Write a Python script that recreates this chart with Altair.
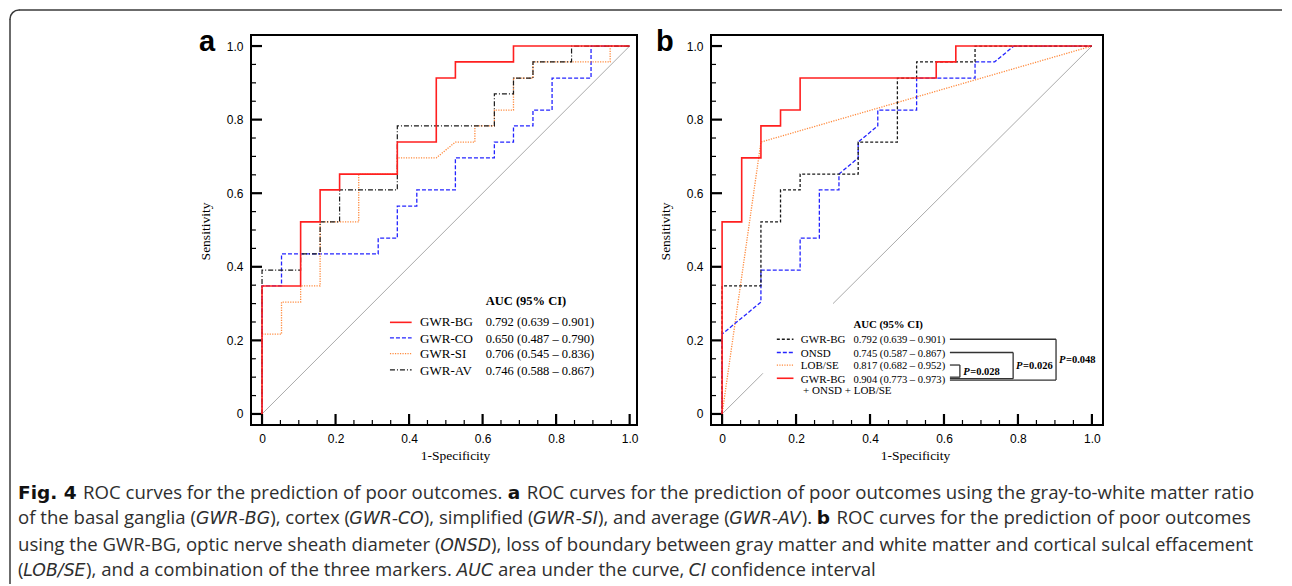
import altair as alt
import pandas as pd

# ---------------- data ----------------
# Panel a: ROC curves (1-specificity, sensitivity)
A_BG_FPR = [0, 0, 0.105, 0.105, 0.158, 0.158, 0.211, 0.211, 0.368, 0.368, 0.474, 0.474, 0.526, 0.526, 0.684, 0.684, 1.0]
A_BG_TPR = [0, 0.348, 0.348, 0.522, 0.522, 0.609, 0.609, 0.652, 0.652, 0.739, 0.739, 0.913, 0.913, 0.957, 0.957, 1.0, 1.0]
A_CO_FPR = [0, 0, 0.053, 0.053, 0.316, 0.316, 0.368, 0.368, 0.421, 0.421, 0.526, 0.526, 0.632, 0.632, 0.684, 0.684, 0.737, 0.737, 0.789, 0.789, 0.895, 0.895, 1.0]
A_CO_TPR = [0, 0.348, 0.348, 0.435, 0.435, 0.478, 0.478, 0.565, 0.565, 0.609, 0.609, 0.696, 0.696, 0.739, 0.739, 0.783, 0.783, 0.826, 0.826, 0.913, 0.913, 1.0, 1.0]
A_SI_FPR = [0, 0, 0.053, 0.053, 0.105, 0.105, 0.158, 0.158, 0.263, 0.263, 0.368, 0.368, 0.474, 0.526, 0.579, 0.579, 0.632, 0.632, 0.684, 0.684, 0.737, 0.737, 0.947, 0.947, 1.0]
A_SI_TPR = [0, 0.217, 0.217, 0.304, 0.304, 0.348, 0.348, 0.522, 0.522, 0.652, 0.652, 0.696, 0.696, 0.739, 0.739, 0.783, 0.783, 0.826, 0.826, 0.913, 0.913, 0.957, 0.957, 1.0, 1.0]
A_AV_FPR = [0, 0, 0.105, 0.105, 0.158, 0.158, 0.211, 0.211, 0.368, 0.368, 0.632, 0.632, 0.684, 0.684, 0.737, 0.737, 0.842, 0.842, 1.0]
A_AV_TPR = [0, 0.391, 0.391, 0.435, 0.435, 0.522, 0.522, 0.609, 0.609, 0.783, 0.783, 0.870, 0.870, 0.913, 0.913, 0.957, 0.957, 1.0, 1.0]

# Panel b
B_BG_FPR = A_BG_FPR
B_BG_TPR = A_BG_TPR
B_ONSD_FPR = [0, 0, 0.105, 0.105, 0.211, 0.211, 0.263, 0.263, 0.316, 0.316, 0.368, 0.368, 0.421, 0.421, 0.526, 0.526, 0.684, 0.684, 0.737, 0.789, 1.0]
B_ONSD_TPR = [0, 0.217, 0.304, 0.391, 0.391, 0.478, 0.478, 0.609, 0.609, 0.652, 0.696, 0.739, 0.783, 0.826, 0.826, 0.913, 0.913, 0.957, 0.957, 1.0, 1.0]
B_LOB_FPR = [0, 0.105, 1.0]
B_LOB_TPR = [0, 0.739, 1.0]
B_COMB_FPR = [0, 0, 0.053, 0.053, 0.105, 0.105, 0.158, 0.158, 0.211, 0.211, 0.579, 0.579, 0.632, 0.632, 1.0]
B_COMB_TPR = [0, 0.522, 0.522, 0.696, 0.696, 0.783, 0.783, 0.826, 0.826, 0.913, 0.913, 0.957, 0.957, 1.0, 1.0]

# chance diagonal (panel b's is interrupted behind the legend)
DIAG_A_X = [0, 1.0]
DIAG_A_Y = [0, 1.0]
DIAG_B_X = [0, 0.11, 0.30, 1.0]
DIAG_B_Y = [0, 0.11, 0.30, 1.0]
DIAG_B_SEG = [0, 0, 1, 1]

TICK_LABELS = [0, 0.2, 0.4, 0.6, 0.8, 1.0]
MINOR_TICKS = [0.05, 0.1, 0.15, 0.25, 0.3, 0.35, 0.45, 0.5, 0.55, 0.65, 0.7, 0.75, 0.85, 0.9, 0.95]

A_NAMES = ["GWR-BG", "GWR-CO", "GWR-SI", "GWR-AV"]
A_AUC = ["0.792 (0.639 – 0.901)", "0.650 (0.487 – 0.790)", "0.706 (0.545 – 0.836)", "0.746 (0.588 – 0.867)"]
B_NAMES = ["GWR-BG", "ONSD", "LOB/SE", "GWR-BG"]
B_AUC = ["0.792 (0.639 – 0.901)", "0.745 (0.587 – 0.867)", "0.817 (0.682 – 0.952)", "0.904 (0.773 – 0.973)"]
B_NAME_EXTRA = "+ ONSD + LOB/SE"
LEGEND_TITLE = "AUC (95% CI)"
P_TEXT = ["=0.028", "=0.026", "=0.048"]

CAPTION_TEXT = [
    [("Fig. 4 ", "b"), ("ROC curves for the prediction of poor outcomes. ", "r"), ("a ", "b"),
     ("ROC curves for the prediction of poor outcomes using the gray-to-white matter ratio", "r")],
    [("of the basal ganglia (", "r"), ("GWR-BG", "i"), ("), cortex (", "r"), ("GWR-CO", "i"),
     ("), simplified (", "r"), ("GWR-SI", "i"), ("), and average (", "r"), ("GWR-AV", "i"),
     ("). ", "r"), ("b ", "b"), ("ROC curves for the prediction of poor outcomes", "r")],
    [("using the GWR-BG, optic nerve sheath diameter (", "r"), ("ONSD", "i"),
     ("), loss of boundary between gray matter and white matter and cortical sulcal effacement", "r")],
    [("(", "r"), ("LOB/SE", "i"), ("), and a combination of the three markers. ", "r"), ("AUC", "i"),
     (" area under the curve, ", "r"), ("CI", "i"), (" confidence interval", "r")],
]

# ---------------- layout / style ----------------
# approximate glyph advance widths, used only to chain the mixed-style caption pieces
OPEN_SANS_W = {" ": 532, ",": 502, ".": 545, "(": 578, ")": 578, "-": 659, "/": 752,
               "a": 1139, "b": 1255, "c": 975, "d": 1255, "e": 1149, "f": 694, "g": 1122, "h": 1257,
               "i": 518, "k": 1075, "l": 518, "m": 1905, "n": 1257, "o": 1237, "p": 1255, "r": 836,
               "s": 977, "t": 723, "u": 1257, "v": 1026, "w": 1593, "x": 1073, "y": 1028,
               "B": 1327, "C": 1292, "G": 1483, "O": 1599, "R": 1278, "S": 1104, "W": 1886}
DEJAVU_W = {" ": 318, "-": 361, "/": 337, "A": 684, "B": 686, "C": 698, "D": 770, "E": 632, "G": 775,
            "I": 295, "L": 557, "N": 748, "O": 787, "R": 695, "S": 635, "U": 732, "V": 684, "W": 989}
DEJAVU_BOLD_W = {" ": 348, ".": 380, "4": 696, "F": 683, "a": 675, "b": 716, "g": 716, "i": 343}
CAP_STYLE = {
    "r": dict(font="Open Sans", size=18.6, widths=OPEN_SANS_W, units=2048, extra={}, color="#2e2e2e"),
    "i": dict(font="DejaVu Sans", size=17.3, widths=DEJAVU_W, units=1000, extra={"fontStyle": "italic"},
              color="#2e2e2e"),
    "b": dict(font="DejaVu Sans", size=18.5, widths=DEJAVU_BOLD_W, units=1000, extra={"fontWeight": "bold"},
              color="#111111"),
}
CAPTION_X0 = 18
CAPTION_BASE = [497.7, 523.3, 549.5, 575]

OX, OY = 251, 34          # page position of panel a's frame
W_A, W_B, H = 386, 392, 390
XDOM_A = [-0.03, 1.02]
XDOM_B = [-0.03, 1.03]
YDOM = [-0.03, 1.03]
SERIF, SANS = "Liberation Serif", "Liberation Sans"
RED, BLUE, ORANGE, BLACK, GRAY = "#ff1f1f", "#2424ff", "#ff8a3d", "#1a1a1a", "#aaaaaa"
DUMMY = pd.DataFrame({"k": [0]})
LABEL_EXPR = "datum.value == 0 ? '0' : format(datum.value, '.1f')"


def text_width(s, style):
    st = CAP_STYLE[style]
    return sum(st["widths"].get(c, 0.55 * st["units"]) for c in s) / st["units"] * st["size"]


class Panel:
    def __init__(self, xdom):
        self.sx = alt.Scale(domain=xdom, nice=False, zero=False)
        self.sy = alt.Scale(domain=YDOM, nice=False, zero=False)
        common = dict(values=TICK_LABELS, labelExpr=LABEL_EXPR, ticks=False, tickSize=0, domain=False,
                      grid=False, labelPadding=8, labelFont=SANS, labelFontSize=12, labelColor="black",
                      labelFlush=False, labelOverlap=False, titleFont=SERIF, titleFontSize=13.5,
                      titleFontWeight="normal", titleColor="black", titleAlign="center")
        self.ax = alt.Axis(title="1-Specificity", titleX=204, titleY=34, titleBaseline="alphabetic", **common)
        self.ay = alt.Axis(title="Sensitivity", titleAngle=270, titleX=-46, titleY=196,
                           titleBaseline="middle", **common)

    def X(self, f):
        return alt.X(f, type="quantitative", scale=self.sx, axis=self.ax)

    def Y(self, f):
        return alt.Y(f, type="quantitative", scale=self.sy, axis=self.ay)

    def curve(self, xs, ys, color, width, dash=None):
        df = pd.DataFrame({"x": xs, "y": ys, "i": list(range(len(xs)))})
        kw = dict(color=color, strokeWidth=width)
        if dash:
            kw["strokeDash"] = dash
        return alt.Chart(df).mark_line(**kw).encode(x=self.X("x"), y=self.Y("y"), order="i:Q")

    def ticks(self):
        out = []
        for vals, ln, sw in ((TICK_LABELS, 11, 2.2), (MINOR_TICKS, 5, 1.2)):
            df = pd.DataFrame({"v": vals})
            out.append(alt.Chart(df).mark_rule(color="black", strokeWidth=sw).encode(
                x=self.X("v"), y=alt.value(H), y2=alt.value(H - ln)))
            out.append(alt.Chart(df).mark_rule(color="black", strokeWidth=sw).encode(
                y=self.Y("v"), x=alt.value(0), x2=alt.value(ln)))
        return out

    def text(self, xs, ys, texts, **kw):
        df = pd.DataFrame({"x": xs, "y": ys, "t": texts})
        base = dict(align="left", baseline="alphabetic", color="black")
        base.update(kw)
        return alt.Chart(df).mark_text(**base).encode(x=self.X("x"), y=self.Y("y"), text="t:N")

    def sample(self, x1, x2, y, color, width, dash=None):
        df = pd.DataFrame({"x": [x1], "x2": [x2], "y": [y]})
        kw = dict(color=color, strokeWidth=width)
        if dash:
            kw["strokeDash"] = dash
        return alt.Chart(df).mark_rule(**kw).encode(x=self.X("x"), x2="x2:Q", y=self.Y("y"))


def letter_layer(letter, rel_x):
    return alt.Chart(DUMMY).mark_text(text=letter, font=SANS, fontSize=29, fontWeight="bold", align="left",
                                      baseline="alphabetic", color="black").encode(
        x=alt.value(rel_x), y=alt.value(16))


# ---------------- panel a ----------------
pa = Panel(XDOM_A)
diag_a = alt.Chart(pd.DataFrame({"x": DIAG_A_X, "y": DIAG_A_Y})).mark_line(color=GRAY, strokeWidth=1).encode(
    x=pa.X("x"), y=pa.Y("y"))

A_STYLES = [(RED, 1.6, None), (BLUE, 1.3, [4, 2]), (ORANGE, 1.3, [1.2, 1.3]), (BLACK, 1.2, [5, 2, 1, 2])]
a_curves = [
    pa.curve(A_CO_FPR, A_CO_TPR, *A_STYLES[1]),
    pa.curve(A_SI_FPR, A_SI_TPR, *A_STYLES[2]),
    pa.curve(A_AV_FPR, A_AV_TPR, *A_STYLES[3]),
    pa.curve(A_BG_FPR, A_BG_TPR, *A_STYLES[0]),
]

LA_X_SAMPLE = (0.348, 0.407)
LA_X_NAME, LA_X_VAL = 0.430, 0.6085
LA_Y_TITLE = 0.295
LA_Y_ROWS = [0.238, 0.194, 0.151, 0.107]
LA_Y_LINES = [0.249, 0.207, 0.164, 0.120]
a_legend = [pa.text([LA_X_VAL], [LA_Y_TITLE], [LEGEND_TITLE], font=SERIF, fontSize=12.5, fontWeight="bold"),
            pa.text([LA_X_NAME] * 4, LA_Y_ROWS, A_NAMES, font=SERIF, fontSize=13),
            pa.text([LA_X_VAL] * 4, LA_Y_ROWS, A_AUC, font=SERIF, fontSize=12.5)]
for k, st in enumerate(A_STYLES):
    a_legend.append(pa.sample(LA_X_SAMPLE[0], LA_X_SAMPLE[1], LA_Y_LINES[k], *st))

# caption (pieces of each line chained one after another) + outer frame, placed relative to panel a
cap_layers = []
for segs, base in zip(CAPTION_TEXT, CAPTION_BASE):
    cur = CAPTION_X0
    for txt, style in segs:
        st = CAP_STYLE[style]
        lead = txt[:len(txt) - len(txt.lstrip())]
        px = cur + text_width(lead, style)
        cur += text_width(txt, style)
        kw = dict(align="left", baseline="alphabetic", font=st["font"], fontSize=st["size"], color=st["color"])
        kw.update(st["extra"])
        cap_layers.append(alt.Chart(DUMMY).mark_text(**kw).encode(
            x=alt.value(round(px - OX, 2)), y=alt.value(base - OY), text=alt.value(txt.strip())))

BORDER = "#3a3a3a"
border = [
    alt.Chart(DUMMY).mark_rule(color=BORDER, strokeWidth=1.5).encode(
        x=alt.value(10 - OX), y=alt.value(18 - OY), y2=alt.value(583 - OY)),
    alt.Chart(DUMMY).mark_rule(color=BORDER, strokeWidth=1.5).encode(
        x=alt.value(19 - OX), x2=alt.value(1282 - OX), y=alt.value(9 - OY)),
    alt.Chart(DUMMY).mark_arc(radius=9, radius2=9, theta=4.712, theta2=6.283, filled=False,
                              color=BORDER, strokeWidth=1.5, strokeJoin="round").encode(
        x=alt.value(19 - OX), y=alt.value(18 - OY)),
]

panel_a = alt.layer(diag_a, *pa.ticks(), *a_curves, *a_legend, letter_layer("a", -52),
                    *cap_layers, *border).properties(width=W_A, height=H)

# ---------------- panel b ----------------
pb = Panel(XDOM_B)
diag_b = alt.Chart(pd.DataFrame({"x": DIAG_B_X, "y": DIAG_B_Y, "s": DIAG_B_SEG})).mark_line(
    color=GRAY, strokeWidth=1).encode(x=pb.X("x"), y=pb.Y("y"), detail="s:N")

B_STYLES = [(BLACK, 1.3, [3, 2]), (BLUE, 1.3, [4, 2]), (ORANGE, 1.3, [1.2, 1.3]), (RED, 1.6, None)]
b_curves = [
    pb.curve(B_LOB_FPR, B_LOB_TPR, *B_STYLES[2]),
    pb.curve(B_ONSD_FPR, B_ONSD_TPR, *B_STYLES[1]),
    pb.curve(B_BG_FPR, B_BG_TPR, *B_STYLES[0]),
    pb.curve(B_COMB_FPR, B_COMB_TPR, *B_STYLES[3]),
]

LB_X_SAMPLE = (0.148, 0.193)
LB_X_NAME, LB_X_VAL, LB_X_EXTRA = 0.213, 0.355, 0.219
LB_Y_TITLE = 0.233
LB_Y_ROWS = [0.192, 0.156, 0.122, 0.085]
LB_Y_LINES = [0.203, 0.167, 0.133, 0.097]
LB_Y_EXTRA = 0.055
b_legend = [pb.text([LB_X_VAL], [LB_Y_TITLE], [LEGEND_TITLE], font=SERIF, fontSize=10.8, fontWeight="bold"),
            pb.text([LB_X_NAME] * 4 + [LB_X_EXTRA], LB_Y_ROWS + [LB_Y_EXTRA], B_NAMES + [B_NAME_EXTRA],
                    font=SERIF, fontSize=11),
            pb.text([LB_X_VAL] * 4, LB_Y_ROWS, B_AUC, font=SERIF, fontSize=10.6)]
for k, st in enumerate(B_STYLES):
    b_legend.append(pb.sample(LB_X_SAMPLE[0], LB_X_SAMPLE[1], LB_Y_LINES[k], *st))

# comparison brackets
BR_X0 = 0.616
BR_X = [0.643, 0.787, 0.903]            # LOB/SE, ONSD, GWR-BG bracket verticals
BR_TOP = [LB_Y_LINES[2], LB_Y_LINES[1], LB_Y_LINES[0]]
BR_BOT = [0.100, 0.096, 0.092]
seg_rows = []
for bx, top, bot in zip(BR_X, BR_TOP, BR_BOT):
    seg_rows += [(BR_X0, bx, top, top), (bx, bx, top, bot), (BR_X0, bx, bot, bot)]
br_df = pd.DataFrame(seg_rows, columns=["x", "x2", "y", "y2"])
brackets = alt.Chart(br_df).mark_rule(color="#333333", strokeWidth=1.3).encode(
    x=pb.X("x"), x2="x2:Q", y=pb.Y("y"), y2="y2:Q")
P_X = [0.652, 0.795, 0.911]
P_Y = [0.106, 0.121, 0.139]
p_italic = pb.text(P_X, P_Y, ["P"] * 3, font=SERIF, fontSize=10.5, fontWeight="bold", fontStyle="italic")
p_vals = pb.text(P_X, P_Y, P_TEXT, font=SERIF, fontSize=10.5, fontWeight="bold", dx=7)

panel_b = alt.layer(diag_b, *pb.ticks(), *b_curves, *b_legend, brackets, p_italic, p_vals,
                    letter_layer("b", -55)).properties(width=W_B, height=H)

chart = alt.hconcat(panel_a, panel_b, spacing=74, bounds="flush").properties(
    padding={"left": 0, "top": 0, "right": 0, "bottom": 0}
).configure_view(stroke="black", strokeWidth=2)

chart.save("out.html", embed_options={"renderer": "svg", "actions": False})
